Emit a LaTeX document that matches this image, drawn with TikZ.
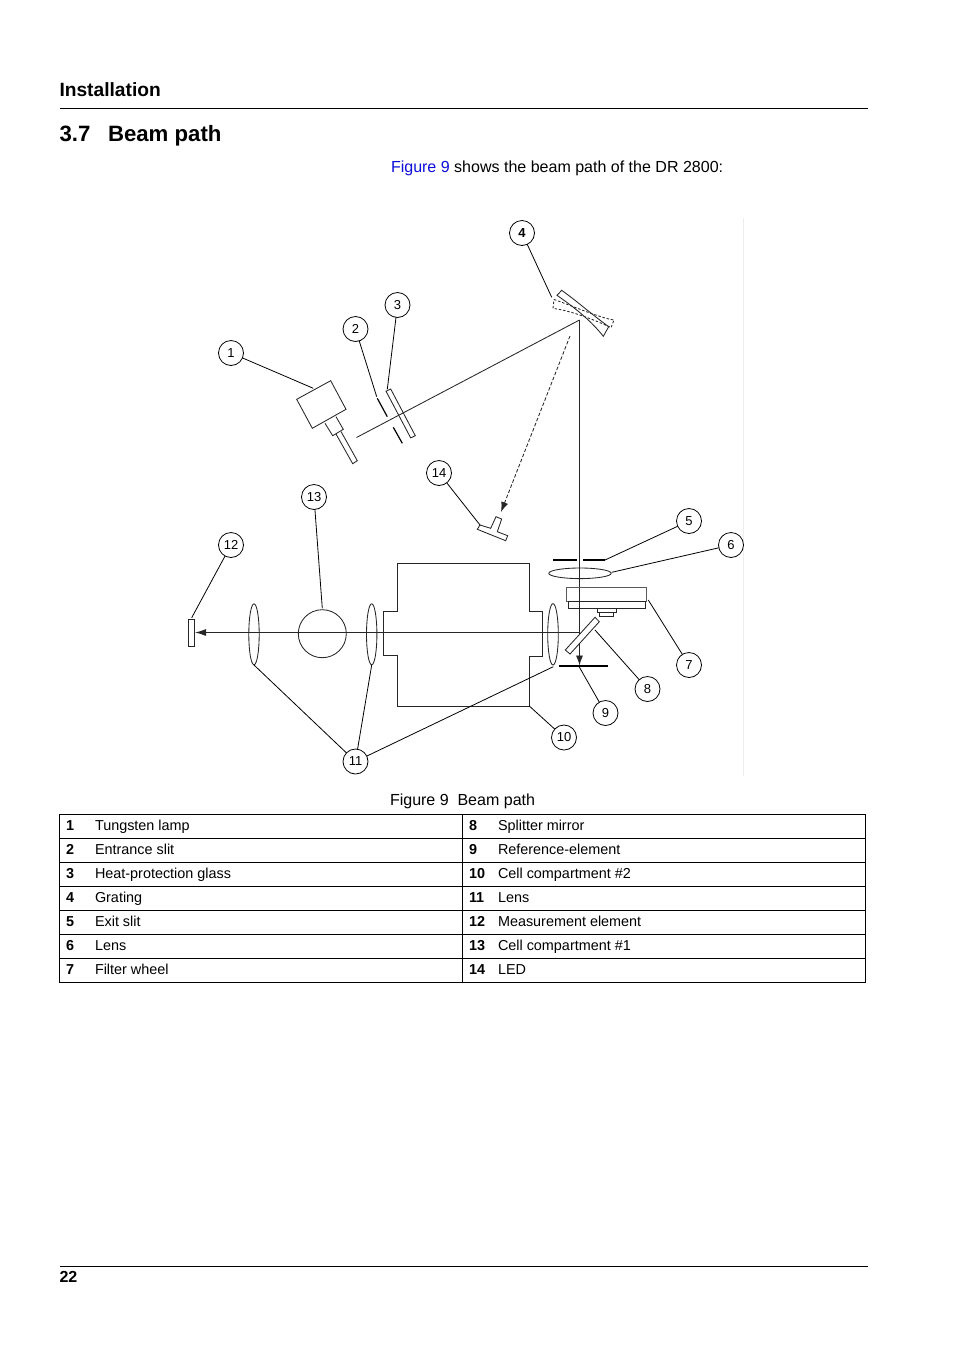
\documentclass[tikz,border=0pt]{standalone}
\usepackage{fontspec}
\setmainfont{Liberation Sans}
\usetikzlibrary{arrows.meta}
\definecolor{linkblue}{rgb}{0.05,0.05,0.85}
\definecolor{faint}{gray}{0.93}
\newcommand*{\bodyfont}{\fontsize{16.02}{19}\selectfont}
\newcommand*{\cellfont}{\fontsize{14.4}{17}\selectfont}
\tikzstyle{base}=[x=1pt, y=-1pt, inner sep=0pt, outer sep=0pt, line width=0.8pt]
\tikzstyle{callout}=[circle, draw, fill=white, minimum size=25pt, font=\fontsize{13}{13}\selectfont]
\tikzstyle{leader}=[line width=0.8pt]
\tikzstyle{part}=[line width=0.85pt, black!85]
\tikzstyle{beam}=[line width=0.85pt, black!85]
\tikzstyle{textline}=[anchor=base west]

\begin{document}
\begin{tikzpicture}[base]
    \useasboundingbox (0,0) rectangle (954,1350);
    % page header
    \node [textline, font=\fontsize{19.2}{22}\selectfont\bfseries] (header) at (59.5,96) {Installation};
    \draw [line width=0.8pt] (59.5,108) -- (868,108);
    \node [textline, font=\fontsize{22.2}{26}\selectfont\bfseries] (secnum) at (59.5,141.5) {3.7};
    \node [textline, font=\fontsize{22.2}{26}\selectfont\bfseries] (sectitle) at (108,141.5) {Beam path};
    \node [textline, font=\bodyfont] (intro) at (391,172) {\textcolor{linkblue}{Figure 9} shows the beam path of the DR 2800:};
    % scan edge
    \draw [faint, line width=0.6pt] (743.5,218) -- (743.5,776);
    % beams
    \coordinate (gratingpt) at (579.5,320);
    \coordinate (beamstart) at (356.5,437.5);
    \coordinate (split) at (579.5,632.5);
    \coordinate (reftip) at (579.5,665.5);
    \coordinate (meastip) at (195,632.5);
    \coordinate (dashstart) at (570,336);
    \coordinate (ledtip) at (501,512);
    \draw [beam] (beamstart) -- (gratingpt);
    \draw [beam, -{Latex[length=10pt,width=7pt]}] (gratingpt) -- (reftip);
    \draw [beam, line width=1.1pt, -{Latex[length=11pt,width=7pt]}] (split) -- (meastip);
    \draw [part, dashed, dash pattern=on 3.5pt off 2pt, -{Latex[length=10pt,width=7pt]}] (dashstart) -- (ledtip);
    % lamp
    \draw [part] (296.7,399.3) -- (330.7,380.7) -- (346,409.3) -- (312.3,428.3) -- cycle;
    \draw [part] (325,423.3) -- (332.7,435.7) -- (343.3,429.3) -- (336,416.7);
    \draw [part] (336,434) -- (352.7,463.7) -- (357.3,460.7) -- (341,431.5);
    % entrance slit
    \draw [line width=1.2pt] (377.3,398.3) -- (387.3,416.7);
    \draw [line width=1.2pt] (393.3,427.3) -- (402.3,443.3);
    % heat glass
    \draw [part] (386,391.2) -- (390.7,389) -- (415.3,435.7) -- (410.7,437.9) -- cycle;
    % grating
    \draw [part, dashed, dash pattern=on 2.5pt off 1.8pt] (554,299.5) .. controls (570,305) and (600,318) .. (614,320) -- (611,327.7) .. controls (600,322) and (570,310) .. (553,308.5) -- cycle;
    \draw [part] (561.7,290.3) .. controls (578,302) and (590,313) .. (608.7,326.7) -- (603.3,336.3) .. controls (592,322) and (578,310) .. (557,295.3) -- cycle;
    % led
    \draw [part] (480,525) -- (490.7,528.3) -- (496,516.7) -- (501.7,519) -- (497.3,531.7) -- (507.7,535.7) -- (505.7,540.7) -- (477.3,529.3) -- cycle;
    % exit slit and lens
    \draw [line width=1.2pt] (553.3,560) -- (576.7,560);
    \draw [line width=1.2pt] (583.3,560) -- (605,560);
    \draw [part] (580,573.3) ellipse [x radius=31.2, y radius=5.3];
    % filter wheel
    \draw [part, black!65] (566.7,587.7) rectangle (646.7,601);
    \draw [part] (568.3,601) rectangle (645.3,608.7);
    \draw [part] (597.3,608.7) rectangle (616.7,612);
    \draw [part] (599.3,612) rectangle (613.3,616);
    % splitter mirror
    \draw [part, fill=white] (595,617.3) -- (599.3,621.7) -- (570,654) -- (565.3,650) -- cycle;
    % reference and measurement elements
    \draw [line width=1.1pt] (559.3,666) -- (607.7,666);
    \draw [part] (188.3,619.7) rectangle (194.7,646.3);
    % lenses
    \draw [part] (254,634.3) ellipse [x radius=5.2, y radius=30.5];
    \draw [part] (371.7,634.3) ellipse [x radius=5.2, y radius=30.5];
    \draw [part] (553,634.3) ellipse [x radius=5.3, y radius=30.7];
    % cell compartments
    \draw [part] (322.3,633.7) circle [radius=24];
    \draw [part, line width=1pt] (529.3,563) -- (397.7,563) -- (397.7,611) -- (383.7,611) -- (383.7,655.7) -- (397.7,655.7) -- (397.7,706) -- (529.3,706) -- (529.3,656) -- (542.3,656) -- (542.3,611.3) -- (529.3,611.3) -- cycle;
    % callouts
    \node [callout] (c1) at (231,353) {1};
    \node [callout] (c2) at (355.5,329) {2};
    \node [callout] (c3) at (397.5,305) {3};
    \node [callout] (c4) at (522,233) {\textbf{4}};
    \node [callout] (c5) at (689,521) {5};
    \node [callout] (c6) at (731,545) {6};
    \node [callout] (c7) at (689,665) {7};
    \node [callout] (c8) at (647.5,689) {8};
    \node [callout] (c9) at (605.5,713) {9};
    \node [callout] (c10) at (564,737.5) {10};
    \node [callout] (c11) at (355.5,761.5) {11};
    \node [callout] (c12) at (231,545) {12};
    \node [callout] (c13) at (314,497) {13};
    \node [callout] (c14) at (439,473) {14};
    % leader ends
    \coordinate (lamp) at (313.3,388.3);
    \coordinate (slit) at (376.7,396.7);
    \coordinate (glass) at (387.3,389.3);
    \coordinate (grating) at (551.7,297.3);
    \coordinate (exit) at (605,560);
    \coordinate (lens) at (611.7,572.3);
    \coordinate (wheel) at (648.3,600);
    \coordinate (mirror) at (595,630);
    \coordinate (refel) at (579.3,667);
    \coordinate (cell) at (529.3,706);
    \coordinate (lensa) at (254,665);
    \coordinate (lensb) at (371.7,665);
    \coordinate (lensc) at (553.3,666.7);
    \coordinate (meas) at (191.7,617.7);
    \coordinate (cella) at (322.3,608.3);
    \coordinate (led) at (480,525);
    \draw [leader] (c1) -- (lamp);
    \draw [leader] (c2) -- (slit);
    \draw [leader] (c3) -- (glass);
    \draw [leader] (c4) -- (grating);
    \draw [leader] (c5) -- (exit);
    \draw [leader] (c6) -- (lens);
    \draw [leader] (c7) -- (wheel);
    \draw [leader] (c8) -- (mirror);
    \draw [leader] (c9) -- (refel);
    \draw [leader] (c10) -- (cell);
    \draw [leader] (c11) -- (lensa);
    \draw [leader] (c11) -- (lensb);
    \draw [leader] (c11) -- (lensc);
    \draw [leader] (c12) -- (meas);
    \draw [leader] (c13) -- (cella);
    \draw [leader] (c14) -- (led);
    % caption and table
    \node [textline, font=\bodyfont] (caption) at (390,805) {Figure 9\hspace{0.55em}Beam path};
    \draw [line width=0.8pt] (59.5,814) rectangle (865.5,982);
    \draw [line width=0.8pt] (462.5,814) -- (462.5,982);
    \foreach \y in {838,862,886,910,934,958}
        \draw [line width=0.8pt] (59.5,\y) -- (865.5,\y);
    \foreach \n/\t [count=\i from 0] in {1/Tungsten lamp,2/Entrance slit,3/Heat-protection glass,4/Grating,5/Exit slit,6/Lens,7/Filter wheel}
        {
        \node [textline, font=\cellfont\bfseries] (num\n) at (66,830+24*\i) {\n};
        \node [textline, font=\cellfont] (item\n) at (95,830+24*\i) {\t};
        }
    \foreach \n/\t [count=\i from 0] in {8/Splitter mirror,9/Reference-element,10/Cell compartment \#2,11/Lens,12/Measurement element,13/Cell compartment \#1,14/LED}
        {
        \node [textline, font=\cellfont\bfseries] (num\n) at (469,830+24*\i) {\n};
        \node [textline, font=\cellfont] (item\n) at (498,830+24*\i) {\t};
        }
    % page footer
    \draw [line width=0.8pt] (59.5,1266.5) -- (868,1266.5);
    \node [textline, font=\bodyfont\bfseries] (page) at (59.5,1282) {22};
\end{tikzpicture}
\end{document}
